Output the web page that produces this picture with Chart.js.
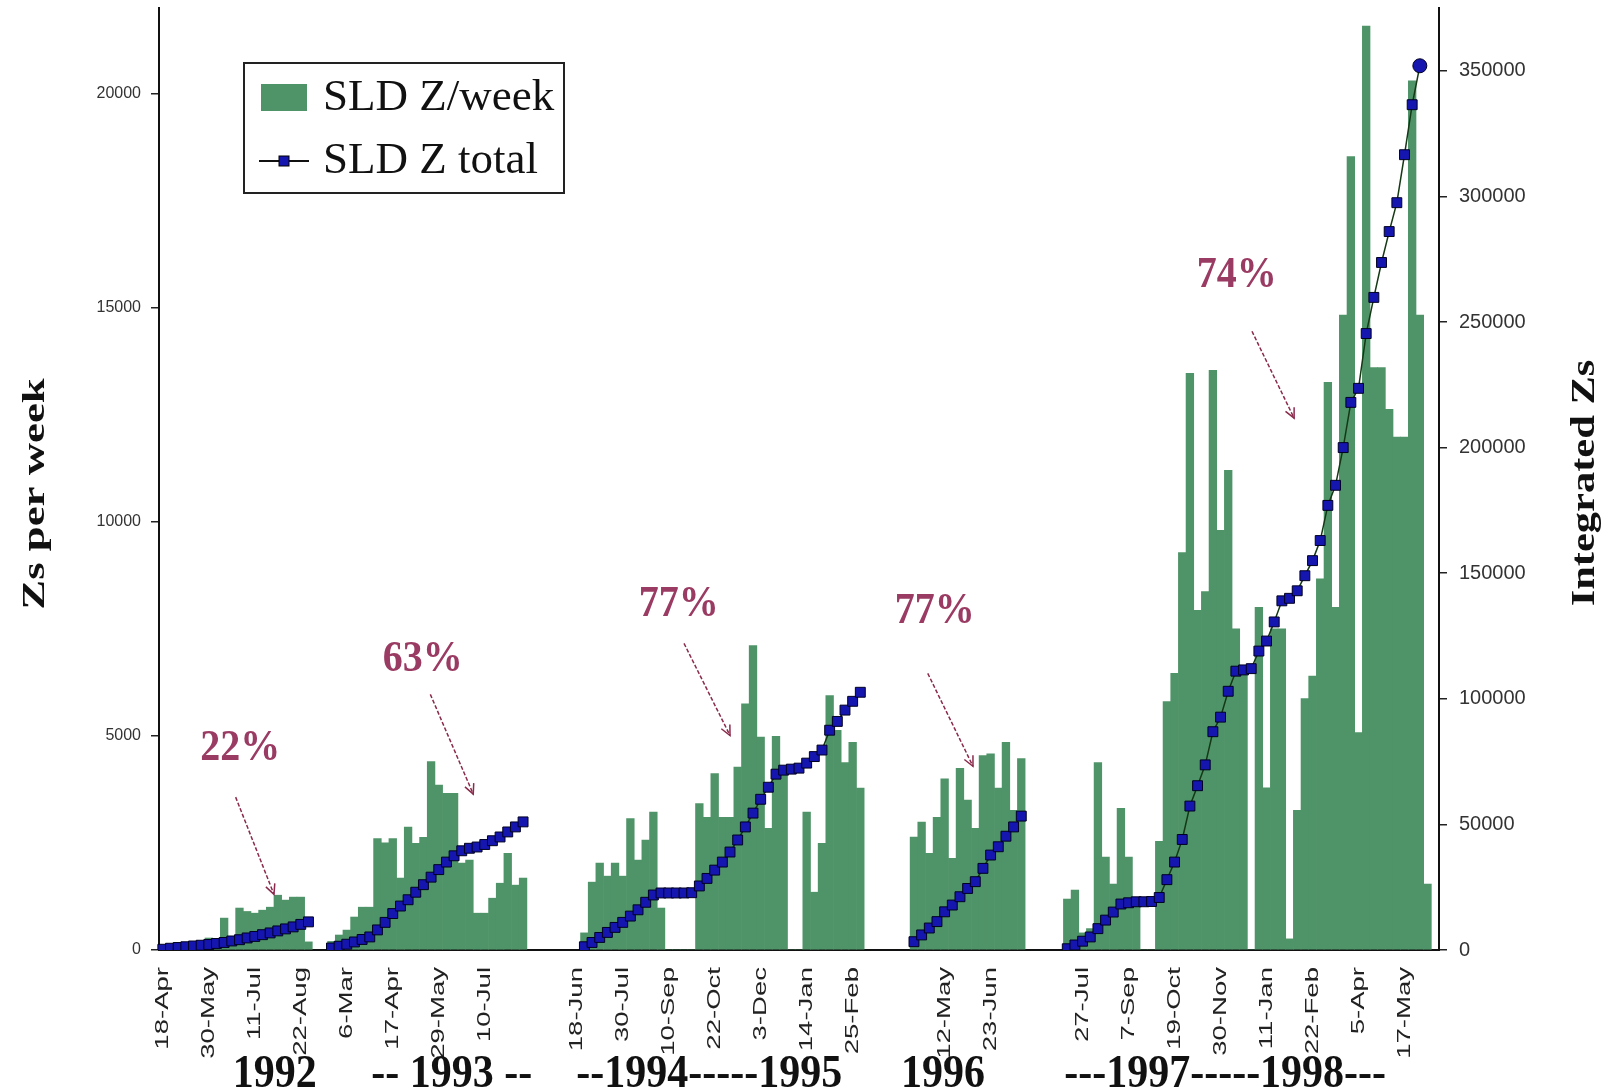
<!DOCTYPE html>
<html>
<head>
<meta charset="utf-8">
<title>SLD Zs per week</title>
<script src="https://cdn.jsdelivr.net/npm/chart.js@4.4.1/dist/chart.umd.min.js"></script>
<style>
  html, body { margin: 0; padding: 0; background: #fff; }
  #wrap { width: 1606px; height: 1089px; }
</style>
</head>
<body>
<div id="wrap"><canvas id="chart" width="1606" height="1089"></canvas></div>
<script>
// One weekly slot per category; each run is separated by a few empty slots.
// Zs per week (left axis) and integrated Zs (right axis).
const week1992  = [40, 60, 80, 100, 150, 200, 280, 180, 745, 250, 980, 900, 860, 930, 1000, 1280, 1165, 1235, 1235, 190];
const total1992 = [300, 700, 1000, 1300, 1600, 1900, 2200, 2600, 3000, 3600, 4100, 4800, 5400, 6100, 6800, 7600, 8400, 9200, 10200, 11200];

const week1993  = [200, 350, 465, 770, 1000, 1000, 2600, 2500, 2600, 1680, 2870, 2490, 2630, 4400, 3850, 3660, 3660, 2030, 2100, 860, 860, 1210, 1560, 2260, 1515, 1680];
const total1993 = [800, 1500, 2300, 3200, 4200, 5200, 8000, 11000, 14500, 17500, 20000, 23000, 26000, 29000, 32000, 35000, 37500, 39500, 40500, 41000, 42000, 43500, 45000, 47000, 49000, 51000];

const week9495  = [400, 1585, 2030, 1725, 2030, 1725, 3070, 2100, 2565, 3220, 980, 0, 0, 0, 0, 3420, 3100, 4120, 3100, 3100, 4270, 5750, 7110, 4970, 2840, 4990, 4120, 0, 0, 3220, 1350, 2490, 5940, 5130, 4380, 4850, 3780];
const total9495 = [1300, 3000, 5000, 7000, 9000, 11000, 13500, 16000, 19000, 21900, 22700, 22700, 22700, 22700, 22800, 25500, 28500, 31800, 35000, 39000, 43800, 49000, 54500, 60000, 64800, 70000, 71600, 72000, 72400, 74400, 77000, 79600, 87500, 91000, 95500, 99000, 102600];

const week1996  = [2640, 2990, 2260, 3100, 4000, 2140, 4240, 3500, 2840, 4540, 4580, 3780, 4850, 3260, 4470];
const total1996 = [3300, 6000, 8750, 11300, 15200, 17900, 21200, 24500, 27200, 32500, 37800, 41100, 45300, 49000, 53300];

const week9798  = [1190, 1400, 400, 500, 4380, 2170, 1540, 3310, 2170, 1190, 0, 0, 2540, 5800, 6460, 9280, 13470, 7930, 8370, 13540, 9800, 11200, 7500, 6600, 0, 8000, 3790, 7500, 7500, 260, 3260, 5870, 6400, 8670, 13260, 8000, 14830, 18530, 5080, 21580, 13600, 13600, 12630, 11980, 11980, 20300, 14830, 1540];
const total9798 = [500, 2000, 3500, 5200, 8500, 11900, 15100, 18300, 18800, 19200, 19200, 19300, 20900, 28000, 35000, 44000, 57300, 65400, 73700, 86900, 92700, 103000, 111000, 111500, 112000, 119000, 123000, 130600, 139000, 140000, 143000, 149000, 155000, 163000, 177000, 185000, 200000, 218000, 223600, 245400, 259800, 273700, 286000, 297500, 316600, 336500, 352000];

// empty slots in front of each run, and after the last one
const gapsBefore = [0, 2, 7, 6, 5];
const gapAfter = 1;

// a date label every 6 slots ('' where the slot falls in a gap)
const tickLabels = ['18-Apr', '30-May', '11-Jul', '22-Aug', '6-Mar', '17-Apr', '29-May', '10-Jul', '',
  '18-Jun', '30-Jul', '10-Sep', '22-Oct', '3-Dec', '14-Jan', '25-Feb', '',
  '12-May', '23-Jun', '',
  '27-Jul', '7-Sep', '19-Oct', '30-Nov', '11-Jan', '22-Feb', '5-Apr', '17-May'];
const labelEvery = 6;

const yearLabels = ['1992', '-- 1993 --', '--1994-----1995', '1996', '---1997-----1998---'];
const yearCentres = [14.6, 37.7, 71.3, 101.8, 138.6];   // in slot units

const pctLabels = ['22%', '63%', '77%', '77%', '74%'];
const pctAt     = [[10.1, 4710], [33.9, 6780], [67.3, 8065], [100.7, 7900], [140.1, 15760]];
const arrowFrom = [[9.5, 3570], [34.9, 5970], [68.0, 7160], [99.8, 6460], [142.1, 14450]];
const arrowTo   = [[14.5, 1300], [40.5, 3640], [74.0, 5010], [105.7, 4290], [147.6, 12420]];

// ---- assemble the full category axis ----
const runs = [[week1992, total1992], [week1993, total1993], [week9495, total9495], [week1996, total1996], [week9798, total9798]];
const weekly = [], totals = [];
runs.forEach(([w, t], r) => {
    for (let i = 0; i < gapsBefore[r]; i++) { weekly.push(null); totals.push(null); }
    w.forEach((v, i) => { weekly.push(v); totals.push(i < t.length ? t[i] : null); });
});
for (let i = 0; i < gapAfter; i++) { weekly.push(null); totals.push(null); }
const categories = weekly.map((_, i) => (i % labelEvery === 0 ? (tickLabels[i / labelEvery] || '') : ''));
const lastPoint = totals.reduce((a, v, i) => (v != null ? i : a), 0);

const GREEN = '#4f9468';
const NAVY = '#1515b0';
const MAROON = '#9a3b63';
const SANS = '"Liberation Sans", Arial, sans-serif';
const SERIF = '"Liberation Serif", "Times New Roman", serif';

function drawText(ctx, text, x, y, font, color, rot, sx, sy, align, baseline) {
    ctx.save();
    ctx.translate(x, y);
    if (rot) ctx.rotate(rot);
    ctx.scale(sx || 1, sy || 1);
    ctx.font = font;
    ctx.fillStyle = color;
    ctx.textAlign = align || 'center';
    ctx.textBaseline = baseline || 'middle';
    ctx.fillText(text, 0, 0);
    ctx.restore();
}

const decorations = {
    id: 'decorations',
    afterDatasetsDraw(chart) {
        const ctx = chart.ctx;
        const xs = chart.scales.x, ys = chart.scales.y;
        const area = chart.chartArea;

        // date labels under the axis (stretched along the text, as in the figure)
        chart.data.labels.forEach((t, i) => {
            if (!t) return;
            drawText(ctx, t, xs.getPixelForValue(i), area.bottom + 17, '19px ' + SANS, '#222', -Math.PI / 2, 1.45, 1, 'right');
        });

        // arrows + percentages
        ctx.save();
        ctx.strokeStyle = '#8a2a4c';
        ctx.lineWidth = 1.5;
        arrowFrom.forEach((f, i) => {
            const x1 = xs.getPixelForValue(f[0]), y1 = ys.getPixelForValue(f[1]);
            const x2 = xs.getPixelForValue(arrowTo[i][0]), y2 = ys.getPixelForValue(arrowTo[i][1]);
            ctx.setLineDash([4, 2]);
            ctx.beginPath(); ctx.moveTo(x1, y1); ctx.lineTo(x2, y2); ctx.stroke();
            ctx.setLineDash([]);
            const a = Math.atan2(y2 - y1, x2 - x1), L = 11;
            ctx.beginPath();
            ctx.moveTo(x2 - L * Math.cos(a - 0.45), y2 - L * Math.sin(a - 0.45));
            ctx.lineTo(x2, y2);
            ctx.lineTo(x2 - L * Math.cos(a + 0.45), y2 - L * Math.sin(a + 0.45));
            ctx.stroke();
        });
        ctx.restore();
        pctLabels.forEach((t, i) => {
            drawText(ctx, t, xs.getPixelForValue(pctAt[i][0]), ys.getPixelForValue(pctAt[i][1]),
                'bold 40px ' + SERIF, MAROON, 0, 1, 1.12);
        });

        // legend box
        const lx = area.left + 85, ly = area.top + 55;
        ctx.save();
        ctx.fillStyle = '#fff';
        ctx.fillRect(lx, ly, 320, 130);
        ctx.strokeStyle = '#222';
        ctx.lineWidth = 2;
        ctx.strokeRect(lx, ly, 320, 130);
        ctx.fillStyle = chart.data.datasets[0].backgroundColor;
        ctx.fillRect(lx + 17, ly + 21, 46, 27);
        ctx.strokeStyle = '#111';
        ctx.lineWidth = 2;
        ctx.beginPath(); ctx.moveTo(lx + 15, ly + 98); ctx.lineTo(lx + 65, ly + 98); ctx.stroke();
        ctx.fillStyle = NAVY;
        ctx.fillRect(lx + 35, ly + 93, 10, 10);
        ctx.strokeStyle = '#000';
        ctx.lineWidth = 1;
        ctx.strokeRect(lx + 35, ly + 93, 10, 10);
        ctx.restore();
        drawText(ctx, chart.data.datasets[0].label, lx + 79, ly + 35, '45px ' + SERIF, '#111', 0, 1, 1, 'left');
        drawText(ctx, chart.data.datasets[1].label, lx + 79, ly + 98, '45px ' + SERIF, '#111', 0, 1, 1, 'left');

        // axis titles
        drawText(ctx, 'Zs per week', 36, 494, 'bold 32px ' + SERIF, '#111', -Math.PI / 2, 1.4, 1);
        drawText(ctx, 'Integrated Zs', 1585, 483, 'bold 34px ' + SERIF, '#111', -Math.PI / 2, 1.25, 1);

        // run years under the date labels
        yearLabels.forEach((t, i) => {
            drawText(ctx, t, xs.getPixelForValue(yearCentres[i]), 1087, 'bold 42px ' + SERIF, '#111', 0, 1, 1.1, 'center', 'alphabetic');
        });
    }
};

function noScalePadding(scale) {
    scale.paddingTop = 0; scale.paddingBottom = 0;
    scale.paddingLeft = 0; scale.paddingRight = 0;
}

new Chart(document.getElementById('chart'), {
    data: {
        labels: categories,
        datasets: [
            {
                type: 'bar',
                label: 'SLD Z/week',
                data: weekly,
                yAxisID: 'y',
                backgroundColor: GREEN,
                borderWidth: 0,
                barPercentage: 1.0,
                categoryPercentage: 1.0,
                order: 2
            },
            {
                type: 'line',
                label: 'SLD Z total',
                data: totals,
                yAxisID: 'y1',
                borderColor: '#153815',
                borderWidth: 1.5,
                pointStyle: (c) => (c.dataIndex === lastPoint ? 'circle' : 'rect'),
                pointRadius: 7,
                pointBackgroundColor: NAVY,
                pointBorderColor: '#000022',
                pointBorderWidth: 1,
                spanGaps: false,
                tension: 0,
                order: 1
            }
        ]
    },
    options: {
        responsive: false,
        animation: false,
        devicePixelRatio: 1,
        layout: { padding: { top: 8, left: 0, right: 0, bottom: 0 } },
        plugins: { legend: { display: false }, tooltip: { enabled: false } },
        scales: {
            x: {
                type: 'category',
                offset: true,
                grid: { display: false },
                border: { display: true, color: '#111', width: 2 },
                ticks: { display: false, autoSkip: false },
                afterFit(scale) { scale.height = 139; noScalePadding(scale); }
            },
            y: {
                position: 'left',
                min: 0, max: 22000,
                grid: { drawOnChartArea: false, drawTicks: true, tickLength: 8, color: '#222', lineWidth: 1.5 },
                border: { display: true, color: '#111', width: 2 },
                ticks: {
                    padding: 10, color: '#333',
                    font: { family: SANS, size: 16 },
                    callback: (v) => String(v)
                },
                afterBuildTicks(scale) { scale.ticks = [0, 5000, 10000, 15000, 20000].map(v => ({ value: v })); },
                afterFit(scale) { scale.width = 159; noScalePadding(scale); }
            },
            y1: {
                position: 'right',
                min: 0, max: 375000,
                grid: { drawOnChartArea: false, drawTicks: true, tickLength: 8, color: '#222', lineWidth: 1.5 },
                border: { display: true, color: '#111', width: 2 },
                ticks: {
                    padding: 12, color: '#333',
                    font: { family: SANS, size: 20 },
                    callback: (v) => String(v)
                },
                afterBuildTicks(scale) { scale.ticks = [0, 50000, 100000, 150000, 200000, 250000, 300000, 350000].map(v => ({ value: v })); },
                afterFit(scale) { scale.width = 167; noScalePadding(scale); }
            }
        }
    },
    plugins: [decorations]
});
</script>
</body>
</html>
